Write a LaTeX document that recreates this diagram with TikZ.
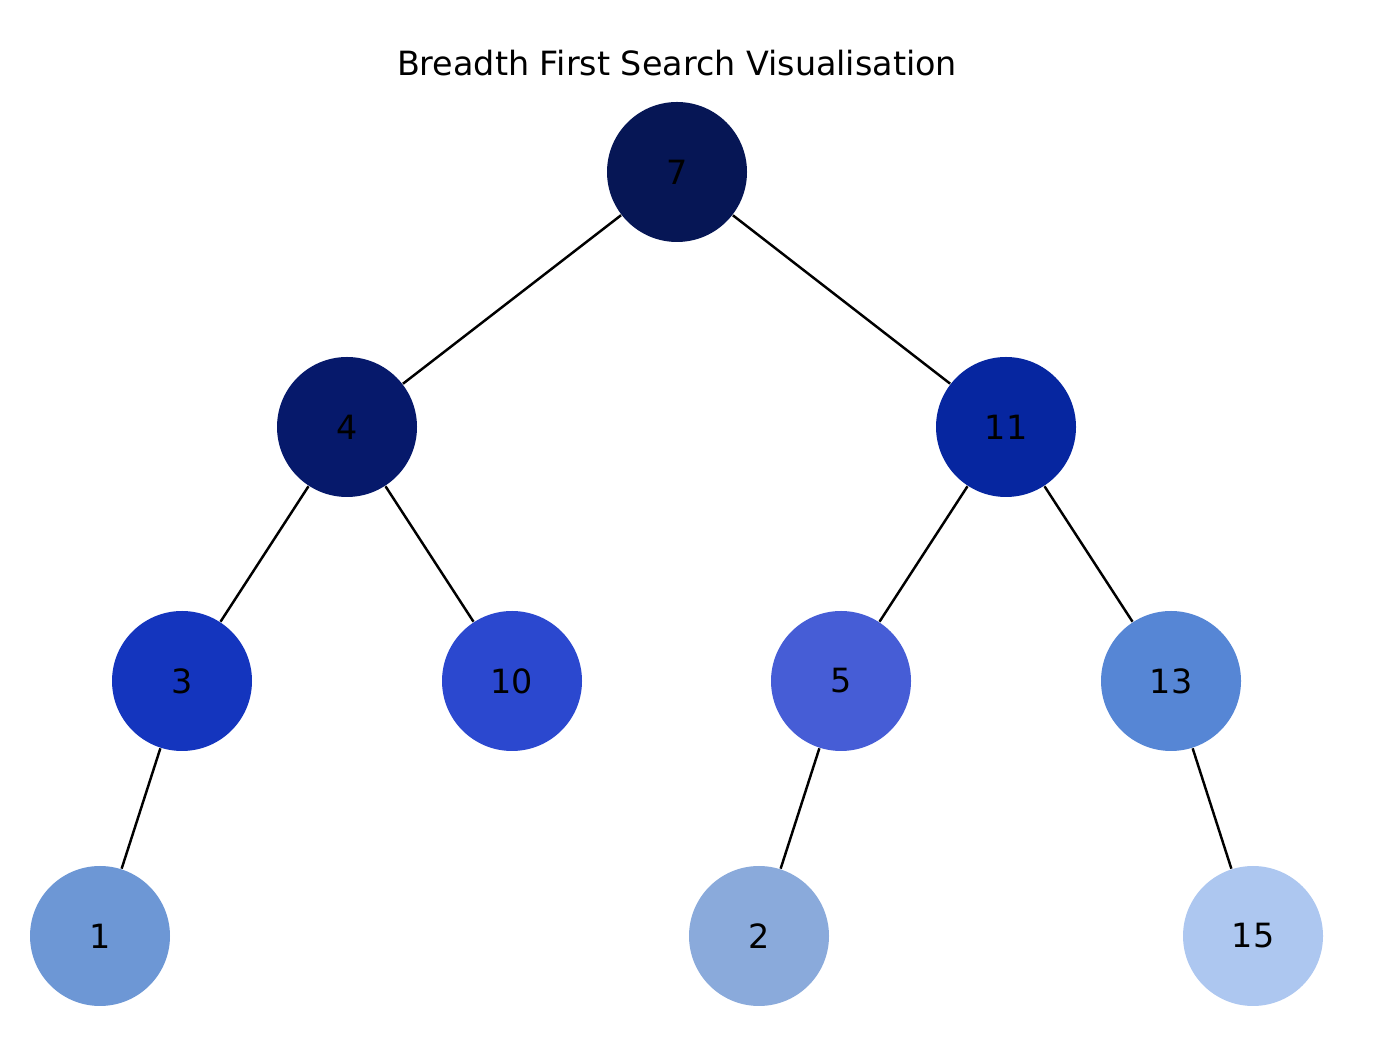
\documentclass[tikz,border=0pt]{standalone}
\usepackage{fontspec}
\setmainfont{DejaVu Sans}
\definecolor{cSeven}{HTML}{061655}
\definecolor{cFour}{HTML}{06196B}
\definecolor{cEleven}{HTML}{0626A0}
\definecolor{cThree}{HTML}{1435BE}
\definecolor{cTen}{HTML}{2B48CF}
\definecolor{cFive}{HTML}{465DD6}
\definecolor{cThirteen}{HTML}{5686D5}
\definecolor{cOne}{HTML}{6D97D5}
\definecolor{cTwo}{HTML}{8AAADB}
\definecolor{cFifteen}{HTML}{ADC7F0}
\begin{document}
\begin{tikzpicture}
[nodedecorate/.style={shape=circle,minimum size=1.4cm,inner sep=0pt,
  font=\fontsize{9.5}{11}\selectfont},%
 linedecorate/.style={-,line width=0.7pt,black}]
\useasboundingbox (0,0) rectangle (13.8,10.48);
%% title
\node (title) at (6.77,9.85) [font=\fontsize{9.5}{11}\selectfont] {Breadth First Search Visualisation};
%% nodes or vertices
\foreach \nodename/\x/\y/\col in {7/6.77/8.76/cSeven, 4/3.47/6.21/cFour,
 11/10.06/6.21/cEleven, 3/1.82/3.67/cThree, 10/5.12/3.67/cTen,
 5/8.41/3.67/cFive, 13/11.71/3.67/cThirteen, 1/1.00/1.12/cOne,
 2/7.59/1.12/cTwo, 15/12.53/1.12/cFifteen}
{
  \node (n\nodename) at (\x,\y) [nodedecorate,fill=\col] {\nodename};
}
%% edges or lines
\path
\foreach \startnode/\endnode in {7/4, 7/11, 4/3, 4/10, 11/5, 11/13,
 3/1, 5/2, 13/15}
{
  (n\startnode) edge[linedecorate] node {} (n\endnode)
};
\end{tikzpicture}
\end{document}
